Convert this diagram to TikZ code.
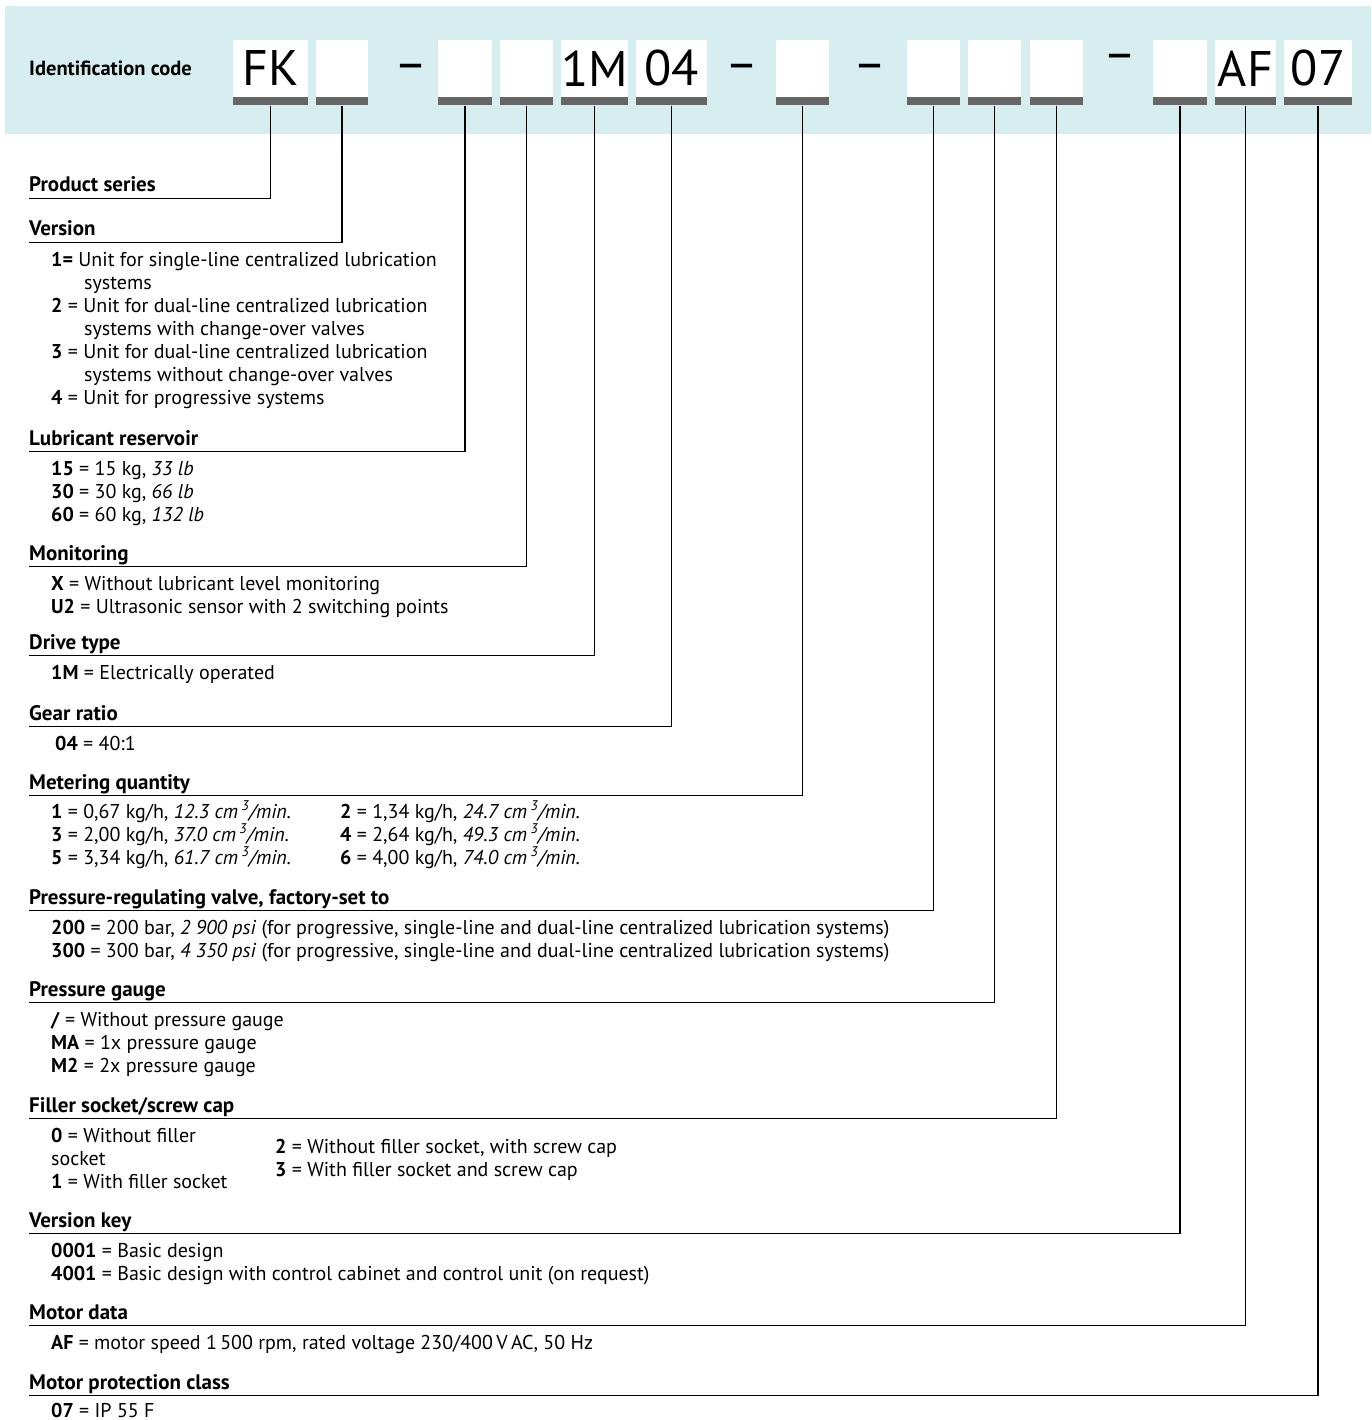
\documentclass[tikz,border=0pt]{standalone}
\usepackage{fontspec}
\setmainfont{PT Sans}
\usetikzlibrary{positioning}

\definecolor{bandcyan}{HTML}{D6EEF0}
\definecolor{bargray}{HTML}{666666}

\newcommand{\cmcube}{cm\,\smash{\textsuperscript{3}}/min.}

\tikzset{
  codebox/.style={fill=white, minimum height=57pt, inner sep=0pt, font=\fontsize{50}{50}\selectfont},
  codebar/.style={fill=bargray, minimum height=8pt, inner sep=0pt, anchor=north},
  dashmark/.style={inner sep=0pt, font=\fontsize{50}{50}\selectfont},
  sechead/.style={anchor=base west, inner sep=0pt, text depth=6pt, font=\bfseries\fontsize{21}{23}\selectfont},
  itemlist/.style={anchor=north west, inner sep=0pt, align=left, font=\fontsize{20}{23}\selectfont},
  leader/.style={line width=1.1pt}
}

\begin{document}
\begin{tikzpicture}[x=1pt,y=-1pt]

\useasboundingbox (0,0) rectangle (1371,1420);
\fill [bandcyan] (5,6) rectangle (1371,134);

\node [anchor=west, inner sep=0pt, font=\bfseries\fontsize{20.5}{22}\selectfont] (idcode) at (29,68) {Identification code};

% code boxes with their grey bars
\foreach \n/\xa/\xb/\lab in {1/233/308/FK, 2/316/368/, 3/438/492/, 4/500/553/, 5/561/628/1M, 6/636/707/04,
  7/776/829/, 8/907/960/, 9/968/1021/, 10/1030/1083/, 11/1153/1207/, 12/1215/1276/AF, 13/1284/1352/07}
{
\node [codebox, minimum width=\xb-\xa] (b\n) at ({(\xa+\xb)/2},68.5) {\lab};
\node [codebar, minimum width=\xb-\xa] (bar\n) at (b\n.south) {};
}

\node [dashmark] (d1) at (411,72) {–};
\node [dashmark] (d2) at (742,72) {–};
\node [dashmark] (d3) at (870,72) {–};
\node [dashmark] (d4) at (1120,62) {–};

% section titles and leaders
\foreach \nm/\u/\ttl/\b in {ps/198/{Product series}/1, ver/242/{Version}/2, res/451/{Lubricant reservoir}/3,
  mon/566/{Monitoring}/4, drv/655/{Drive type}/5, gear/726/{Gear ratio}/6, met/795/{Metering quantity}/7,
  prv/910/{Pressure-regulating valve, factory-set to}/8, pg/1002/{Pressure gauge}/9,
  fill/1118/{Filler socket/screw cap}/10, vk/1233/{Version key}/11, md/1325/{Motor data}/12,
  mp/1395/{Motor protection class}/13}
{
\node [sechead] (\nm) at (29,\u-6) {\ttl};
\draw [leader] (bar\b.south) |- (\nm.south west);
}

% options
\node [itemlist] (verlist) at (51,250) {\strut\textbf{1=} Unit for single-line centralized lubrication\\
  \hspace*{33pt}systems\\
  \textbf{2} = Unit for dual-line centralized lubrication\\
  \hspace*{33pt}systems with change-over valves\\
  \textbf{3} = Unit for dual-line centralized lubrication\\
  \hspace*{33pt}systems without change-over valves\\
  \textbf{4} = Unit for progressive systems};

\node [itemlist] (reslist) at (51,459) {\strut\textbf{15} = 15 kg, \textit{33 lb}\\
  \textbf{30} = 30 kg, \textit{66 lb}\\
  \textbf{60} = 60 kg, \textit{132 lb}};

\node [itemlist] (monlist) at (51,574) {\strut\textbf{X} = Without lubricant level monitoring\\
  \textbf{U2} = Ultrasonic sensor with 2 switching points};

\node [itemlist] (drvlist) at (51,663) {\strut\textbf{1M} = Electrically operated};

\node [itemlist] (gearlist) at (55,734) {\strut\textbf{04} = 40:1};

\node [itemlist] (metlistA) at (51,802) {\strut\textbf{1} = 0,67 kg/h, \textit{12.3 \cmcube}\\
  \textbf{3} = 2,00 kg/h, \textit{37.0 \cmcube}\\
  \textbf{5} = 3,34 kg/h, \textit{61.7 \cmcube}};
\node [itemlist] (metlistB) at (340,802) {\strut\textbf{2} = 1,34 kg/h, \textit{24.7 \cmcube}\\
  \textbf{4} = 2,64 kg/h, \textit{49.3 \cmcube}\\
  \textbf{6} = 4,00 kg/h, \textit{74.0 \cmcube}};

\node [itemlist] (prvlist) at (51,918) {\strut\textbf{200} = 200 bar, \textit{2 900 psi} (for progressive, single-line and dual-line centralized lubrication systems)\\
  \textbf{300} = 300 bar, \textit{4 350 psi} (for progressive, single-line and dual-line centralized lubrication systems)};

\node [itemlist] (pglist) at (51,1010) {\strut\textbf{/} = Without pressure gauge\\
  \textbf{MA} = 1x pressure gauge\\
  \textbf{M2} = 2x pressure gauge};

\node [itemlist] (filllistA) at (51,1126) {\strut\textbf{0} = Without filler\\
  socket\\
  \textbf{1} = With filler socket};
\node [itemlist] (filllistB) at (275,1137.5) {\strut\textbf{2} = Without filler socket, with screw cap\\
  \textbf{3} = With filler socket and screw cap};

\node [itemlist] (vklist) at (51,1241) {\strut\textbf{0001} = Basic design\\
  \textbf{4001} = Basic design with control cabinet and control unit (on request)};

\node [itemlist] (mdlist) at (51,1333) {\strut\textbf{AF} = motor speed 1\,500 rpm, rated voltage 230/400\,V\,AC, 50 Hz};

\node [itemlist] (mplist) at (51,1401) {\strut\textbf{07} = IP 55 F};

\end{tikzpicture}
\end{document}
